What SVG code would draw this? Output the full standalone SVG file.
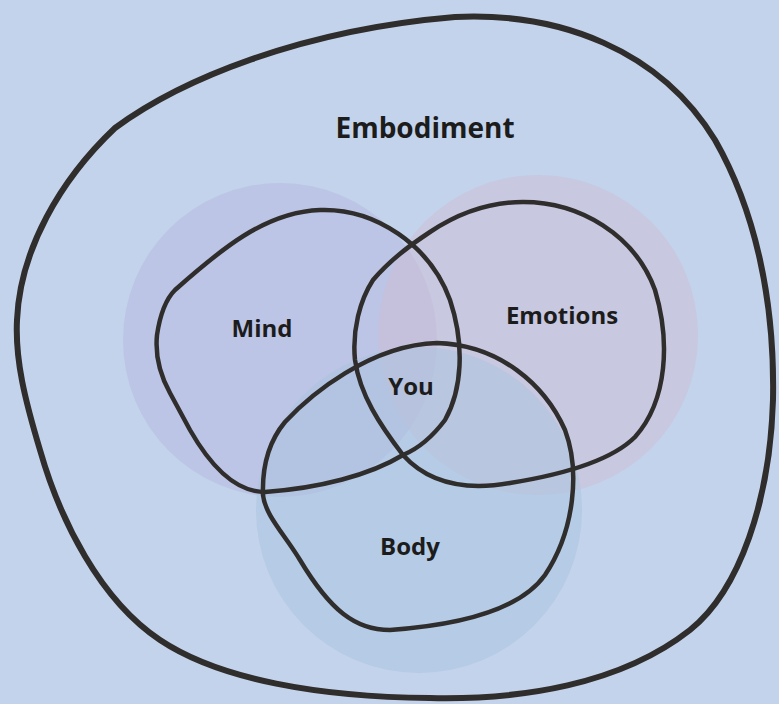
<svg xmlns="http://www.w3.org/2000/svg" width="779" height="704" viewBox="0 0 779 704">
<style>
.lbl{font-family:"Open Sans","Noto Sans","Liberation Sans",sans-serif;font-weight:bold;fill:#1c1c1c;text-anchor:middle}
.blob{fill:none;stroke:#302d2d;stroke-width:4.5;stroke-linejoin:round}
</style>
<rect width="779" height="704" fill="#c3d3ec"/>
<g id="halos">
<circle cx="280" cy="340" r="157" fill="#b5b7dd" opacity="0.5"/>
<circle cx="538" cy="335" r="160" fill="#cdbdd3" opacity="0.5"/>
<circle cx="419" cy="510" r="163" fill="#a7c3df" opacity="0.5"/>
</g>
<g id="embodiment">
<path class="blob" style="stroke-width:6" d="M 115,128 C 180,80 300,30 455,17 C 560,12 660,50 715,140 C 755,210 775,300 773,400 C 770,500 740,590 690,630 C 620,685 520,700 430,698 C 320,697 220,680 160,640 C 100,600 60,520 40,450 C 25,400 15,360 17,320 C 20,250 60,180 115,128 Z"/>
<text class="lbl" x="425" y="138" font-size="28">Embodiment</text>
</g>
<g id="mind">
<path class="blob" d="M 175,290 C 220,250 265,212 320,210 C 375,208 430,245 450,300 C 465,345 462,390 445,420 C 430,440 415,450 403,455 C 370,475 320,488 265,492 C 235,492 210,465 190,430 L 170,393 C 160,375 155,355 157,335 C 160,315 165,300 175,290 Z"/>
<text class="lbl" x="262" y="337" font-size="24">Mind</text>
</g>
<g id="emotions">
<path class="blob" d="M 403,455 C 380,425 360,395 355,360 C 352,330 360,300 373,280 C 390,260 410,245 430,232 C 460,212 490,202 523,202 C 580,202 635,235 655,290 C 670,340 668,400 635,437 C 610,462 560,475 510,483 C 470,490 430,485 403,455 Z"/>
<text class="lbl" x="562" y="324" font-size="24">Emotions</text>
</g>
<g id="body">
<path class="blob" d="M 437,343 C 500,345 545,385 565,430 C 580,470 575,530 545,575 C 520,610 460,625 390,630 C 355,630 330,610 300,560 C 285,535 265,515 263,495 C 262,465 270,440 285,422 C 310,395 370,345 437,343 Z"/>
<text class="lbl" x="410" y="555" font-size="24">Body</text>
</g>
<g id="you">
<text class="lbl" x="411" y="395" font-size="24">You</text>
</g>
<g id="connectors"></g>
</svg>
